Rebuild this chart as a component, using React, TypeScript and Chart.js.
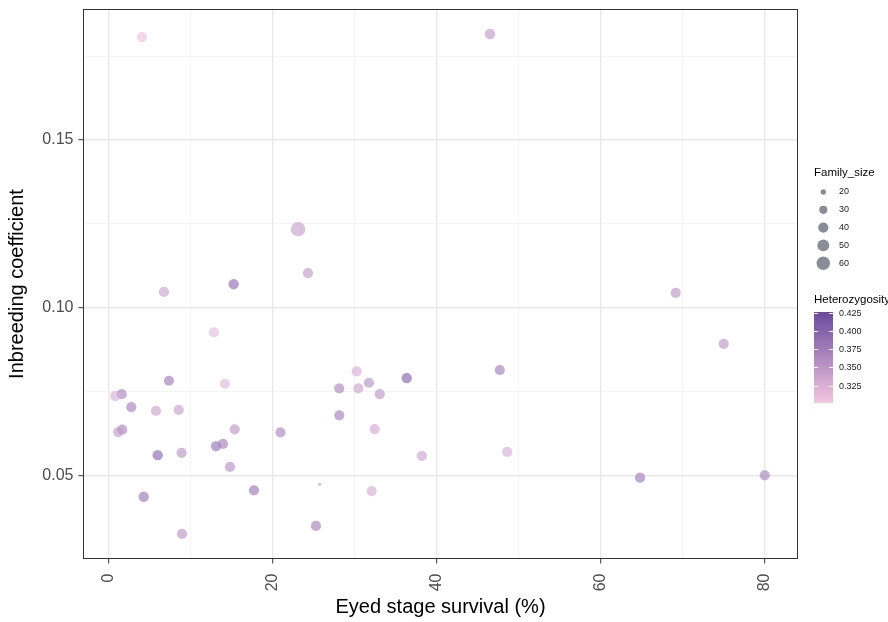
import React, { useEffect, useRef } from 'react';
import { Chart, registerables } from 'chart.js';

Chart.register(...registerables);

// ---- data ----
const survival = [
  4.06, 46.5, 23.1, 24.3, 6.74, 15.24, 12.84, 69.15, 75.0, 47.7,
  36.34, 30.24, 28.12, 30.44, 31.74, 33.05, 28.12, 32.44, 38.2, 48.6,
  25.73, 32.07, 25.28, 20.95, 17.72, 14.79, 15.37, 13.09, 13.94, 8.9,
  8.94, 4.27, 5.98, 7.35, 5.77, 8.54, 14.18, 2.76, 1.59, 0.8,
  1.66, 1.17, 64.8, 80.0,
];
const inbreeding = [
  0.1807, 0.1816, 0.1234, 0.1103, 0.1047, 0.107, 0.0926, 0.1044, 0.0892, 0.0814,
  0.079, 0.081, 0.0759, 0.0759, 0.0776, 0.0742, 0.0679, 0.0638, 0.0558, 0.057,
  0.0473, 0.0453, 0.0349, 0.0628, 0.0455, 0.0525, 0.0637, 0.0587, 0.0594, 0.0567,
  0.0325, 0.0436, 0.056, 0.0782, 0.0692, 0.0695, 0.0773, 0.0703, 0.0742, 0.0736,
  0.0636, 0.0629, 0.0493, 0.05,
];
const familySize = [
  40, 42, 68, 40, 40, 41, 40, 40, 40, 40,
  41, 40, 40, 40, 40, 40, 40, 40, 41, 40,
  15, 40, 40, 40, 40, 40, 40, 41, 40, 40,
  40, 41, 41, 40, 40, 40, 40, 40, 40, 40,
  40, 40, 40, 40,
];
const heterozygosity = [
  0.31, 0.35, 0.345, 0.35, 0.34, 0.395, 0.315, 0.355, 0.355, 0.375,
  0.405, 0.33, 0.37, 0.34, 0.36, 0.355, 0.375, 0.335, 0.34, 0.33,
  0.35, 0.33, 0.375, 0.37, 0.385, 0.36, 0.355, 0.39, 0.375, 0.355,
  0.355, 0.385, 0.4, 0.38, 0.34, 0.345, 0.32, 0.375, 0.37, 0.325,
  0.37, 0.35, 0.38, 0.37,
];

const xMajorTicks = [0, 20, 40, 60, 80];
const xMinorTicks = [10, 30, 50, 70];
const yMajorTicks = [0.05, 0.1, 0.15];
const yMinorTicks = [0.075, 0.125, 0.175];
const sizeLegendValues = [20, 30, 40, 50, 60];
const hetLegendValues = [0.425, 0.4, 0.375, 0.35, 0.325];

const X_MIN = -3.07;
const X_MAX = 84.0;
const Y_MIN = 0.02518;
const Y_MAX = 0.18893;
const H_MIN = 0.301;
const H_MAX = 0.426;

const FONT = "'Liberation Sans', Arial, Helvetica, sans-serif";
const LOW = [243, 199, 224];
const HIGH = [106, 73, 157];

function hetRGB(h: number): number[] {
  let t = (h - H_MIN) / (H_MAX - H_MIN);
  t = Math.max(0, Math.min(1, t));
  return LOW.map((l, i) => Math.round(l + (HIGH[i] - l) * t));
}
function hetColor(h: number, a = 1): string {
  const [r, g, b] = hetRGB(h);
  return `rgba(${r},${g},${b},${a})`;
}
function sizeRadius(s: number): number {
  return Math.sqrt(Math.max(1.5, 0.94 * s - 11.5));
}
const near = (arr: number[], v: number) => arr.some((m) => Math.abs(m - v) < 1e-9);

const decorPlugin = {
  id: 'decor',
  afterDraw(chart: any) {
    const { ctx, chartArea: a } = chart;
    ctx.save();
    // panel border
    ctx.strokeStyle = '#333333';
    ctx.lineWidth = 1;
    ctx.strokeRect(a.left, a.top, a.right - a.left, a.bottom - a.top);

    // size legend
    const lx = 814;
    ctx.fillStyle = '#000000';
    ctx.font = `11.5px ${FONT}`;
    ctx.textAlign = 'left';
    ctx.textBaseline = 'middle';
    ctx.fillText('Family_size', lx, 173);
    sizeLegendValues.forEach((s, i) => {
      const cy = 192 + i * 17.8;
      ctx.beginPath();
      ctx.arc(823.3, cy, sizeRadius(s), 0, Math.PI * 2);
      ctx.fillStyle = '#898e96';
      ctx.fill();
      ctx.fillStyle = '#1a1a1a';
      ctx.font = `9px ${FONT}`;
      ctx.fillText(String(s), 839, cy);
    });

    // colour bar
    ctx.fillStyle = '#000000';
    ctx.font = `11.5px ${FONT}`;
    ctx.fillText('Heterozygosity', lx, 300);
    const bx = 814, bw = 19, btop = 312, bbot = 403;
    const grad = ctx.createLinearGradient(0, bbot, 0, btop);
    for (let k = 0; k <= 10; k++) {
      const h = H_MIN + (H_MAX - H_MIN) * (k / 10);
      grad.addColorStop(k / 10, hetColor(h));
    }
    ctx.fillStyle = grad;
    ctx.fillRect(bx, btop, bw, bbot - btop);
    hetLegendValues.forEach((h) => {
      const y = Math.round(bbot - ((h - H_MIN) / (H_MAX - H_MIN)) * (bbot - btop)) + 0.5;
      ctx.strokeStyle = '#ffffff';
      ctx.lineWidth = 1;
      ctx.beginPath();
      ctx.moveTo(bx, y);
      ctx.lineTo(bx + 4, y);
      ctx.moveTo(bx + bw - 4, y);
      ctx.lineTo(bx + bw, y);
      ctx.stroke();
      ctx.fillStyle = '#1a1a1a';
      ctx.font = `9px ${FONT}`;
      ctx.fillText(h.toFixed(3), 839, y);
    });
    ctx.restore();
  },
};

function zeroPad(s: any) {
  s.paddingTop = 0;
  s.paddingBottom = 0;
  s.paddingLeft = 0;
  s.paddingRight = 0;
}

export default function App() {
  const ref = useRef<HTMLCanvasElement>(null);
  useEffect(() => {
    if (!ref.current) return;
    const points = survival.map((x, i) => ({ x, y: inbreeding[i] }));
    const xTicks = [...xMajorTicks, ...xMinorTicks].sort((p, q) => p - q);
    const yTicks = [...yMajorTicks, ...yMinorTicks].sort((p, q) => p - q);
    const isMaj = (arr: number[]) => (c: any) => !!(c.tick && near(arr, c.tick.value));
    const xMaj = isMaj(xMajorTicks);
    const yMaj = isMaj(yMajorTicks);
    const chart = new Chart(ref.current, {
      type: 'scatter',
      data: {
        datasets: [
          {
            data: points,
            pointRadius: familySize.map(sizeRadius),
            pointHoverRadius: familySize.map(sizeRadius),
            pointBackgroundColor: heterozygosity.map((h) => hetColor(h, 0.62)),
            pointBorderWidth: 0,
            pointBorderColor: 'rgba(0,0,0,0)',
          },
        ],
      },
      options: {
        animation: false,
        responsive: false,
        devicePixelRatio: 1,
        events: [],
        layout: { padding: { top: 9.5, right: 90.5, left: 0, bottom: 0 } },
        plugins: { legend: { display: false }, tooltip: { enabled: false } },
        scales: {
          x: {
            type: 'linear',
            min: X_MIN,
            max: X_MAX,
            afterBuildTicks: (s: any) => {
              s.ticks = xTicks.map((v) => ({ value: v }));
            },
            afterFit: (s: any) => {
              s.height = 63.5;
              zeroPad(s);
            },
            ticks: {
              autoSkip: false,
              minRotation: 90,
              maxRotation: 90,
              padding: 10,
              color: '#4d4d4d',
              font: { family: FONT, size: 16 },
              callback: (v: any) => (near(xMajorTicks, Number(v)) ? String(v) : ''),
            },
            grid: {
              color: (c: any) => (xMaj(c) ? '#e8e8e8' : '#efefef'),
              lineWidth: (c: any) => (xMaj(c) ? 1.4 : 0.7),
              tickColor: (c: any) => (xMaj(c) ? '#333333' : 'rgba(0,0,0,0)'),
              tickLength: 5,
              tickWidth: 1,
              drawTicks: true,
            },
            border: { display: false },
            title: {
              display: true,
              text: 'Eyed stage survival (%)',
              color: '#000000',
              font: { family: FONT, size: 20 },
              padding: { top: 0, bottom: 3 },
            },
          },
          y: {
            type: 'linear',
            min: Y_MIN,
            max: Y_MAX,
            afterBuildTicks: (s: any) => {
              s.ticks = yTicks.map((v) => ({ value: v }));
            },
            afterFit: (s: any) => {
              s.width = 83.5;
              zeroPad(s);
            },
            ticks: {
              autoSkip: false,
              padding: 5,
              color: '#4d4d4d',
              font: { family: FONT, size: 16 },
              callback: (v: any) => (near(yMajorTicks, Number(v)) ? Number(v).toFixed(2) : ''),
            },
            grid: {
              color: (c: any) => (yMaj(c) ? '#e8e8e8' : '#efefef'),
              lineWidth: (c: any) => (yMaj(c) ? 1.4 : 0.7),
              tickColor: (c: any) => (yMaj(c) ? '#333333' : 'rgba(0,0,0,0)'),
              tickLength: 5,
              tickWidth: 1,
              drawTicks: true,
            },
            border: { display: false },
            title: {
              display: true,
              text: 'Inbreeding coefficient',
              color: '#000000',
              font: { family: FONT, size: 20 },
              padding: { top: 5, bottom: 0 },
            },
          },
        },
      },
      plugins: [decorPlugin],
    } as any);
    return () => chart.destroy();
  }, []);

  return (
    <div style={{ position: 'absolute', left: 0, top: 0, width: 888, height: 622, background: '#ffffff' }}>
      <canvas ref={ref} width={888} height={622} style={{ display: 'block', width: 888, height: 622 }} />
    </div>
  );
}
